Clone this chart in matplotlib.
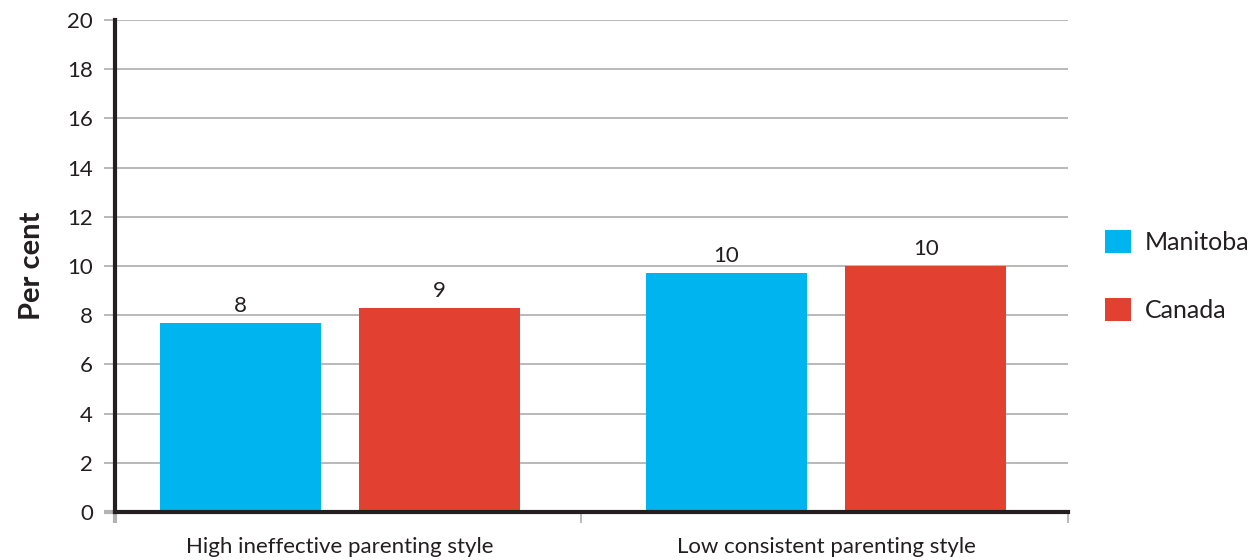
import matplotlib.pyplot as plt
import numpy as np

# Data
categories = ['High ineffective parenting style', 'Low consistent parenting style']
manitoba = [7.7, 9.7]
canada = [8.3, 10.0]
manitoba_labels = ['8', '10']
canada_labels = ['9', '10']

BLUE = '#00b5ef'
RED = '#e24132'
TXT = '#231f20'
GRID = '#b3b3b3'

plt.rcParams['font.family'] = ['Lato', 'DejaVu Sans']

fig = plt.figure(figsize=(12.6, 5.6), dpi=100)
ax = fig.add_axes([0.0913, 0.0857, 0.7563, 0.8786])

x = np.arange(len(categories))
w = 0.331
off = 0.205
b1 = ax.bar(x - off, manitoba, w, color=BLUE, label='Manitoba', zorder=3)
b2 = ax.bar(x + off, canada, w, color=RED, label='Canada', zorder=3)

for bars, labs in [(b1, manitoba_labels), (b2, canada_labels)]:
    for bar, lab in zip(bars, labs):
        ax.annotate(lab, (bar.get_x() + bar.get_width() / 2, bar.get_height()),
                    xytext=(0, 5), textcoords='offset points',
                    ha='center', va='bottom', fontsize=16, color=TXT)

x0, x1 = -0.462, 1.497
ax.set_xlim(x0, x1)
ax.set_ylim(0, 20)
ax.set_yticks(np.arange(0, 21, 2))
ax.yaxis.grid(True, color=GRID, linewidth=1.3, zorder=0)
ax.tick_params(axis='y', length=8, width=1.3, color=GRID, labelsize=16,
               labelcolor=TXT, pad=8)

# boundary ticks on x axis, labels in the middle of the groups
ax.set_xticks([x0, 0.496, x1])
ax.set_xticklabels([])
ax.set_xticks(x, minor=True)
ax.set_xticklabels(categories, minor=True)
ax.tick_params(axis='x', which='major', length=8, width=1.3, color=GRID)
ax.tick_params(axis='x', which='minor', length=0, labelsize=16,
               labelcolor=TXT, pad=18)
ax.xaxis.get_major_ticks()[0].tick1line.set_color(TXT)
ax.xaxis.get_major_ticks()[0].tick1line.set_markeredgewidth(3)
ax.yaxis.get_major_ticks()[0].tick1line.set_color(TXT)
ax.yaxis.get_major_ticks()[0].tick1line.set_markeredgewidth(3)

for s in ['top', 'right']:
    ax.spines[s].set_visible(False)
for s in ['left', 'bottom']:
    ax.spines[s].set_linewidth(3)
    ax.spines[s].set_color(TXT)
    ax.spines[s].set_zorder(4)

ax.set_ylabel('Per cent', fontsize=21, fontweight='bold', color=TXT, labelpad=16)

ax.legend(loc='center left', bbox_to_anchor=(1.039, 0.48), frameon=False,
          fontsize=18, handlelength=1.04, handleheight=1.04, labelspacing=1.76,
          handletextpad=0.56, borderpad=0, borderaxespad=0, labelcolor=TXT)

fig.savefig('out.png', dpi=100)
